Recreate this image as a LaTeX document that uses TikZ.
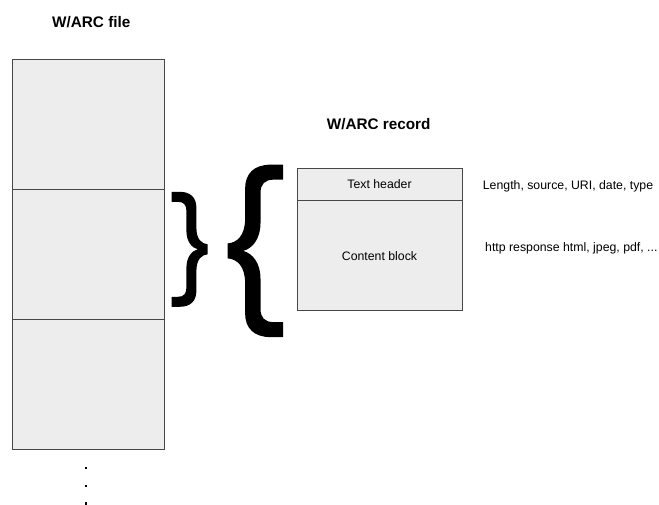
\documentclass[tikz,border=0pt]{standalone}
\usepackage{fontspec}
\setmainfont{Liberation Sans}
\begin{document}
\begin{tikzpicture}[x=1pt,y=-1pt,
  block/.style={draw=black!72, line width=0.9pt, fill=black!7},
  title/.style={font=\fontsize{15.3}{18}\selectfont\bfseries, inner sep=0pt},
  label/.style={font=\fontsize{12.3}{14}\selectfont, inner sep=0pt},
  dot/.style={fill=black, minimum size=2.6pt, inner sep=0pt},
  brace/.style={fill=black, draw=none}]
\useasboundingbox (0,0) rectangle (659,504);
% curly brace outline, tip at the origin, opening to the left
\def\braceoutline{
  (-36,-57.5) -- (-28,-57.5)
  .. controls (-17,-57.5) and (-11.3,-51.5) .. (-11.3,-41.5)
  -- (-11.3,-21.5)
  .. controls (-11.3,-10) and (-6,-5.5) .. (0,-5)
  -- (0,5)
  .. controls (-6,5.5) and (-11.3,10) .. (-11.3,21.5)
  -- (-11.3,41.5)
  .. controls (-11.3,51.5) and (-17,57.5) .. (-28,57.5)
  -- (-36,57.5) -- (-36,47.5) -- (-30,47.5)
  .. controls (-24,47.5) and (-21.3,44.5) .. (-21.3,38.5)
  -- (-21.3,18.5)
  .. controls (-21.3,8) and (-16,1.5) .. (-10,0)
  .. controls (-16,-1.5) and (-21.3,-8) .. (-21.3,-18.5)
  -- (-21.3,-38.5)
  .. controls (-21.3,-44.5) and (-24,-47.5) .. (-30,-47.5)
  -- (-36,-47.5) -- cycle}
% W/ARC file: stacked records
\node[title] (filetitle) at (91.3,22.2) {W/ARC file};
\draw[block] (12,59) rectangle (164,189);
\draw[block] (12,189) rectangle (164,319);
\draw[block] (12,319) rectangle (164,449);
\node[dot] (d1) at (86,468) {};
\node[dot] (d2) at (86,486) {};
\node[dot] (d3) at (86,503.5) {};
% braces: one record of the file expands into a W/ARC record
\begin{scope}[shift={(207.7,249.3)}]
  \fill[brace] \braceoutline;
\end{scope}
\begin{scope}[shift={(227.7,250.9)}, xscale=-1.54, yscale=1.5]
  \fill[brace] \braceoutline;
\end{scope}
% W/ARC record
\node[title] (rectitle) at (378.7,124) {W/ARC record};
\draw[block] (297,168) rectangle (462,200);
\draw[block] (297,200) rectangle (462,310);
\node[label] (hdr) at (379.5,184) {Text header};
\node[label] (cnt) at (379.5,255.7) {Content block};
\node[label, anchor=west] (hdrinfo) at (482.7,186.7) {Length, source, URI, date, type};
\node[label, anchor=west] (cntinfo) at (485,248) {http response html, jpeg, pdf, ...};
\end{tikzpicture}
\end{document}
